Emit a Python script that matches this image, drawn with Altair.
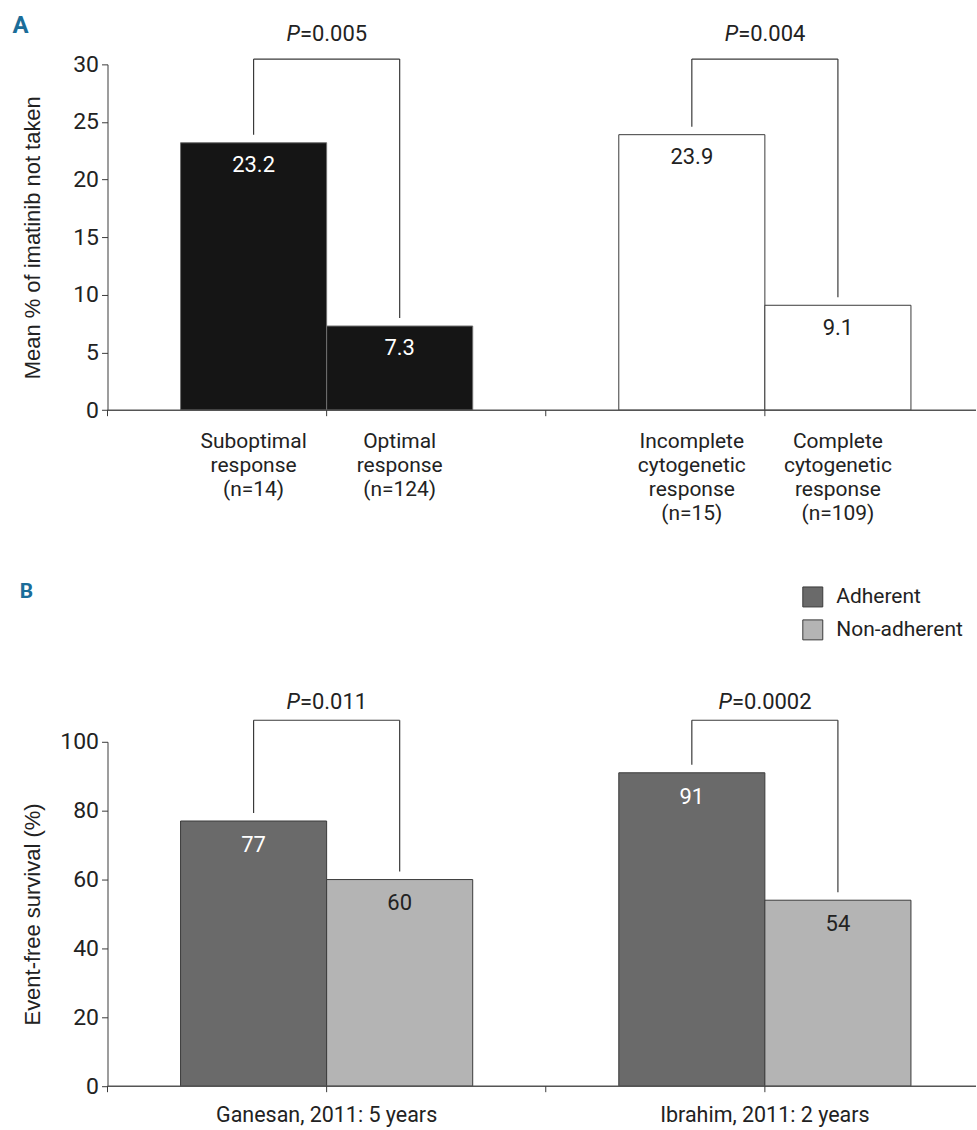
import altair as alt
import pandas as pd

# ---- Panel A: mean % of imatinib doses not taken, by response category
a_categories = [
    "Suboptimal\nresponse\n(n=14)",
    "Optimal\nresponse\n(n=124)",
    "Incomplete\ncytogenetic\nresponse\n(n=15)",
    "Complete\ncytogenetic\nresponse\n(n=109)",
]
a_groups = ["Molecular", "Molecular", "Cytogenetic", "Cytogenetic"]
a_values = [23.2, 7.3, 23.9, 9.1]
a_pvalues = ["0.005", "0.004"]
a_ticks = [0, 5, 10, 15, 20, 25, 30]

# ---- Panel B: event-free survival by adherence
b_studies = ["Ganesan, 2011: 5 years", "Ibrahim, 2011: 2 years"]
b_series = ["Adherent", "Non-adherent"]
b_adherent = [77, 91]
b_nonadherent = [60, 54]
b_pvalues = ["0.011", "0.0002"]
b_ticks = [0, 20, 40, 60, 80, 100]

# ---- styling
NARROW = "Roboto, Liberation Sans, sans-serif"
REGULAR = "Liberation Sans, Arial, Helvetica, sans-serif"
INK = "#222222"
LINE = "#3a3a3a"
LETTER = "#1b6d99"

PLOT_W = 870          # visible plot width
X_RANGE = 878         # run of the two bar groups (the second ends just past the edge)
HA, HB = 346.4, 345   # plot heights
SPACING = 331.6       # gap between the two plot areas
GAP = " "             # empty slot between the two bar pairs
P_SIZE = 22

one = pd.DataFrame({"k": [0]})


def xscale(domain):
    return alt.Scale(domain=domain, range=[0, X_RANGE], paddingInner=0, paddingOuter=0.5)


def yaxis(values, title):
    return alt.Axis(
        values=values, title=title, grid=False,
        domainColor=LINE, tickColor=LINE, tickSize=6, tickWidth=1,
        labelFont=NARROW, labelFontSize=23, labelColor=INK, labelPadding=3,
        titleFont=REGULAR, titleFontSize=22, titleFontWeight="normal", titleColor=INK,
        titleAngle=270, titleAlign="center", titleBaseline="alphabetic",
        titleX=-67.7,
    )


def char_w(s):
    # approximate advance widths (em), used to centre the "P=..." labels
    w = {".": 0.263, "=": 0.549, "P": 0.63}
    return sum(w.get(c, 0.562) for c in s)


def frame(domain, H, letter, letter_x, letter_y, letter_size):
    sc = xscale(domain)
    axis_line = alt.Chart(one).mark_rule(color="#555555", strokeWidth=1.5).encode(
        x=alt.value(0), x2=alt.value(PLOT_W), y=alt.value(H))
    tick0 = alt.Chart(one).mark_rule(color=LINE).encode(
        x=alt.value(0), y=alt.value(H), y2=alt.value(H + 6))
    edge_ticks = alt.Chart(pd.DataFrame({"slot": [domain[1], domain[4]]})).mark_rule(color=LINE).encode(
        x=alt.X("slot:N", scale=sc, axis=None, bandPosition=0),
        y=alt.value(H), y2=alt.value(H + 6))
    mid_tick = alt.Chart(pd.DataFrame({"slot": [GAP]})).mark_rule(color=LINE).encode(
        x=alt.X("slot:N", scale=sc, axis=None, bandPosition=0.5),
        y=alt.value(H), y2=alt.value(H + 6))
    lab = alt.Chart(one).mark_text(
        text=letter, font=NARROW, fontWeight="bold", fontSize=letter_size,
        color=LETTER, align="left", baseline="alphabetic",
    ).encode(x=alt.value(letter_x), y=alt.value(letter_y))
    return [axis_line, tick0, edge_ticks, mid_tick, lab]


def brackets(domain, pairs, pvals, top_px, p_base):
    sc = xscale(domain)
    df = pd.DataFrame({"a": [p[0] for p in pairs], "b": [p[1] for p in pairs], "p": pvals})
    layers = [
        alt.Chart(df).mark_rule(color=LINE, strokeWidth=1.2).encode(
            x=alt.X("a:N", scale=sc, axis=None), x2="b:N", y=alt.value(top_px))
    ]
    for i, p in enumerate(pvals):
        rest = "=" + p
        dx = (char_w("P") - char_w(rest)) / 2 * P_SIZE
        row = df.iloc[[i]]
        layers.append(alt.Chart(row).mark_text(
            text="P", font=NARROW, fontStyle="italic", fontSize=P_SIZE, color=INK,
            align="right", baseline="alphabetic", dx=dx,
        ).encode(x=alt.X("b:N", scale=sc, axis=None, bandPosition=0), y=alt.value(p_base)))
        layers.append(alt.Chart(row).mark_text(
            text=rest, font=NARROW, fontSize=P_SIZE, color=INK,
            align="left", baseline="alphabetic", dx=dx,
        ).encode(x=alt.X("b:N", scale=sc, axis=None, bandPosition=0), y=alt.value(p_base)))
    return layers


# ================= Panel A =================
a_df = pd.DataFrame({"slot": a_categories, "group": a_groups, "value": a_values})
a_domain = [a_categories[0], a_categories[1], GAP, a_categories[2], a_categories[3]]
a_sc = xscale(a_domain)
a_y = alt.Y("value:Q", scale=alt.Scale(domain=[0, 30], nice=False, zero=True),
            axis=yaxis(a_ticks, "Mean % of imatinib not taken"))
dark_a = alt.datum.group == "Molecular"

a_bars = alt.Chart(a_df).mark_bar(strokeWidth=1).encode(
    x=alt.X("slot:N", scale=a_sc, axis=None),
    y=a_y,
    fill=alt.condition(dark_a, alt.value("#151515"), alt.value("#ffffff")),
    stroke=alt.condition(dark_a, alt.value("#6e6e6e"), alt.value(LINE)),
)
a_vals = alt.Chart(a_df).mark_text(font=NARROW, fontSize=22, baseline="alphabetic", dy=29.5).encode(
    x=alt.X("slot:N", scale=a_sc, axis=None),
    y=alt.Y("value:Q"),
    text=alt.Text("value:Q", format=".1f"),
    color=alt.condition(dark_a, alt.value("#ffffff"), alt.value(INK)),
)
a_legs = alt.Chart(a_df).mark_rule(color=LINE, strokeWidth=1.2, yOffset=-8).encode(
    x=alt.X("slot:N", scale=a_sc, axis=None), y=alt.Y("value:Q"), y2=alt.value(-5.3))
a_cats = alt.Chart(a_df).mark_text(
    font=NARROW, fontSize=21, lineHeight=24, lineBreak="\n", color=INK,
    align="center", baseline="alphabetic",
).encode(x=alt.X("slot:N", scale=a_sc, axis=None), y=alt.value(HA + 38), text="slot:N")

panel_a = alt.layer(
    a_bars, a_vals, a_legs, a_cats,
    *brackets(a_domain, [(a_categories[0], a_categories[1]), (a_categories[2], a_categories[3])],
              a_pvalues, -5.3, -23.3),
    *frame(a_domain, HA, "A", -95.3, -31, 24),
).properties(width=PLOT_W, height=HA)

# ================= Panel B =================
b_rows = []
for s, adh, non in zip(b_studies, b_adherent, b_nonadherent):
    b_rows.append({"study": s, "series": b_series[0], "slot": s + "|" + b_series[0], "value": adh})
    b_rows.append({"study": s, "series": b_series[1], "slot": s + "|" + b_series[1], "value": non})
b_df = pd.DataFrame(b_rows)
b_slots = list(b_df["slot"])
b_domain = [b_slots[0], b_slots[1], GAP, b_slots[2], b_slots[3]]
b_sc = xscale(b_domain)
b_y = alt.Y("value:Q", scale=alt.Scale(domain=[0, 100], nice=False, zero=True),
            axis=yaxis(b_ticks, "Event-free survival (%)"))
dark_b = alt.datum.series == b_series[0]

# the legend is laid out from the origin of the whole figure (top panel's plot corner)
b_bars = alt.Chart(b_df).mark_bar(strokeWidth=1, stroke=LINE).encode(
    x=alt.X("slot:N", scale=b_sc, axis=None),
    y=b_y,
    fill=alt.Color(
        "series:N",
        scale=alt.Scale(domain=b_series, range=["#6a6a6a", "#b4b4b4"]),
        legend=alt.Legend(
            title=None, orient="none", legendX=696, legendY=HA + SPACING - 155,
            direction="vertical",
            symbolType="square", symbolSize=400, symbolStrokeColor=LINE, symbolStrokeWidth=1,
            symbolOpacity=1, labelFont=NARROW, labelFontSize=21, labelColor=INK,
            labelOffset=13, rowPadding=8, padding=0,
        ),
    ),
)
b_vals = alt.Chart(b_df).mark_text(font=NARROW, fontSize=22, baseline="alphabetic", dy=31).encode(
    x=alt.X("slot:N", scale=b_sc, axis=None),
    y=alt.Y("value:Q"),
    text=alt.Text("value:Q", format="d"),
    color=alt.condition(dark_b, alt.value("#ffffff"), alt.value(INK)),
)
b_legs = alt.Chart(b_df).mark_rule(color=LINE, strokeWidth=1.2, yOffset=-8).encode(
    x=alt.X("slot:N", scale=b_sc, axis=None), y=alt.Y("value:Q"), y2=alt.value(-21.6))
b_study_df = pd.DataFrame({"study": b_studies, "slot": [b_slots[1], b_slots[3]]})
b_cats = alt.Chart(b_study_df).mark_text(
    font=NARROW, fontSize=21.5, color=INK, align="center", baseline="alphabetic",
).encode(x=alt.X("slot:N", scale=b_sc, axis=None, bandPosition=0), y=alt.value(HB + 36), text="study:N")

panel_b = alt.layer(
    b_bars, b_vals, b_legs, b_cats,
    *brackets(b_domain, [(b_slots[0], b_slots[1]), (b_slots[2], b_slots[3])], b_pvalues, -21.6, -33),
    *frame(b_domain, HB, "B", -88, -143.6, 21),
).properties(width=PLOT_W, height=HB)

chart = alt.vconcat(
    panel_a, panel_b, spacing=SPACING, bounds="flush",
    padding={"left": 11.7, "top": 13.5, "right": 0, "bottom": 0},
).resolve_scale(
    x="independent", y="independent", color="independent"
).configure_view(stroke=None).properties(background="white")

chart.save("out.html", embed_options={"renderer": "svg", "actions": False})
